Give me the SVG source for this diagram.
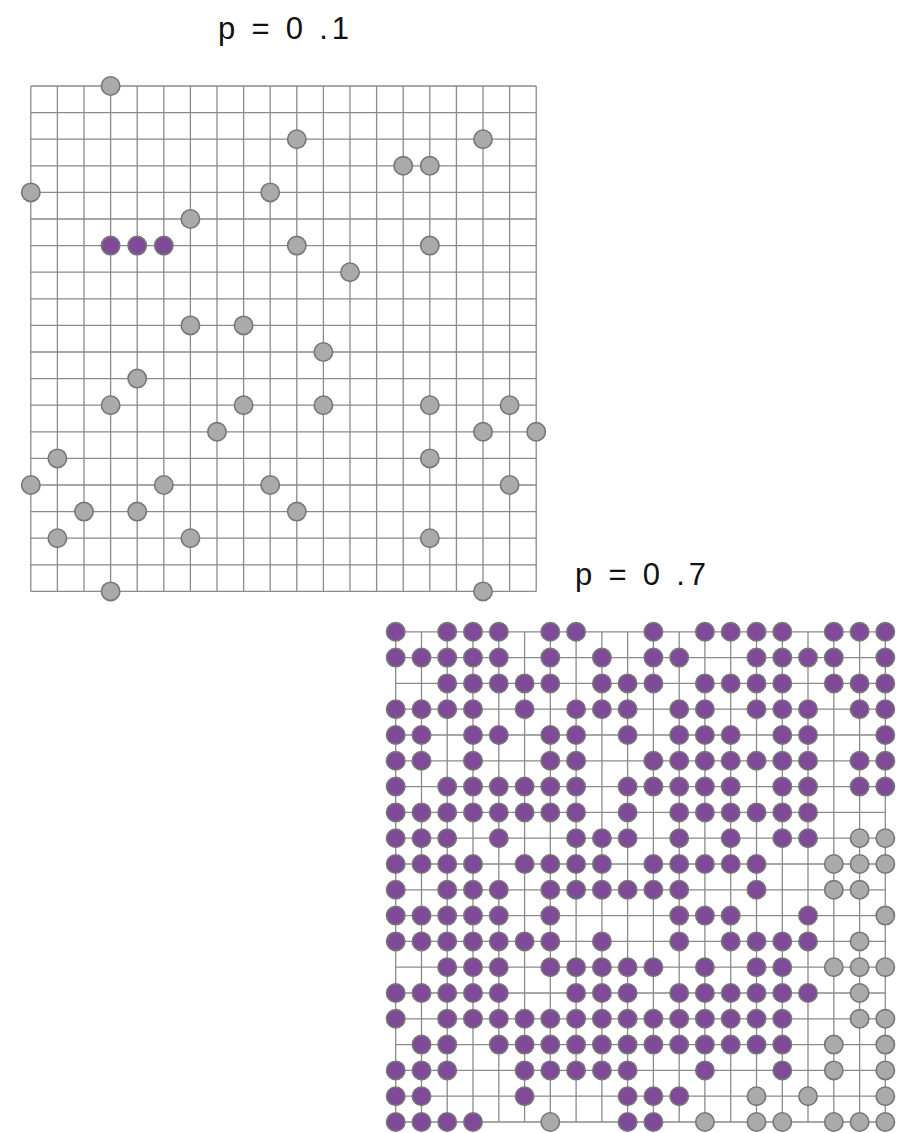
<svg xmlns="http://www.w3.org/2000/svg" xmlns:xlink="http://www.w3.org/1999/xlink" width="904" height="1133" viewBox="0 0 904 1133">
<style>
.title{font-family:"Liberation Sans","DejaVu Sans",sans-serif;font-size:31px;fill:#111}
.grid{fill:none;stroke:#8a8a8a;stroke-width:1.3}
</style>
<defs>
<circle id="P" r="9.2" fill="#7f4a98" stroke="#777" stroke-width="1.6"/>
<circle id="G" r="9.2" fill="#aaaaaa" stroke="#777" stroke-width="1.6"/>
</defs>
<rect width="904" height="1133" fill="#fff"/>
<text class="title" x="218" y="39" textLength="131" lengthAdjust="spacing">p = 0 .1</text>
<text class="title" x="575" y="585" textLength="131" lengthAdjust="spacing">p = 0 .7</text>

<g id="connectors">
<path id="grid-a" class="grid" d="M30.8 86V591.4M57.4 86V591.4M84 86V591.4M110.6 86V591.4M137.2 86V591.4M163.8 86V591.4M190.4 86V591.4M217 86V591.4M243.6 86V591.4M270.2 86V591.4M296.8 86V591.4M323.4 86V591.4M350 86V591.4M376.6 86V591.4M403.2 86V591.4M429.8 86V591.4M456.4 86V591.4M483 86V591.4M509.6 86V591.4M536.2 86V591.4M30.8 86H536.2M30.8 112.6H536.2M30.8 139.2H536.2M30.8 165.8H536.2M30.8 192.4H536.2M30.8 219H536.2M30.8 245.6H536.2M30.8 272.2H536.2M30.8 298.8H536.2M30.8 325.4H536.2M30.8 352H536.2M30.8 378.6H536.2M30.8 405.2H536.2M30.8 431.8H536.2M30.8 458.4H536.2M30.8 485H536.2M30.8 511.6H536.2M30.8 538.2H536.2M30.8 564.8H536.2M30.8 591.4H536.2"/>
<path id="grid-b" class="grid" d="M395.7 631.8V1122M421.5 631.8V1122M447.2 631.8V1122M473 631.8V1122M498.8 631.8V1122M524.6 631.8V1122M550.3 631.8V1122M576.1 631.8V1122M601.9 631.8V1122M627.6 631.8V1122M653.4 631.8V1122M679.2 631.8V1122M704.9 631.8V1122M730.7 631.8V1122M756.5 631.8V1122M782.3 631.8V1122M808 631.8V1122M833.8 631.8V1122M859.6 631.8V1122M885.3 631.8V1122M395.7 631.8H885.3M395.7 657.6H885.3M395.7 683.4H885.3M395.7 709.2H885.3M395.7 735H885.3M395.7 760.8H885.3M395.7 786.6H885.3M395.7 812.4H885.3M395.7 838.2H885.3M395.7 864H885.3M395.7 889.8H885.3M395.7 915.6H885.3M395.7 941.4H885.3M395.7 967.2H885.3M395.7 993H885.3M395.7 1018.8H885.3M395.7 1044.6H885.3M395.7 1070.4H885.3M395.7 1096.2H885.3M395.7 1122H885.3"/>
</g>

<g id="sites-a">
<use href="#G" x="110.6" y="86"/>
<use href="#G" x="296.8" y="139.2"/>
<use href="#G" x="483" y="139.2"/>
<use href="#G" x="403.2" y="165.8"/>
<use href="#G" x="429.8" y="165.8"/>
<use href="#G" x="30.8" y="192.4"/>
<use href="#G" x="270.2" y="192.4"/>
<use href="#G" x="190.4" y="219"/>
<use href="#P" x="110.6" y="245.6"/>
<use href="#P" x="137.2" y="245.6"/>
<use href="#P" x="163.8" y="245.6"/>
<use href="#G" x="296.8" y="245.6"/>
<use href="#G" x="429.8" y="245.6"/>
<use href="#G" x="350" y="272.2"/>
<use href="#G" x="190.4" y="325.4"/>
<use href="#G" x="243.6" y="325.4"/>
<use href="#G" x="323.4" y="352"/>
<use href="#G" x="137.2" y="378.6"/>
<use href="#G" x="110.6" y="405.2"/>
<use href="#G" x="243.6" y="405.2"/>
<use href="#G" x="323.4" y="405.2"/>
<use href="#G" x="429.8" y="405.2"/>
<use href="#G" x="509.6" y="405.2"/>
<use href="#G" x="217" y="431.8"/>
<use href="#G" x="483" y="431.8"/>
<use href="#G" x="536.2" y="431.8"/>
<use href="#G" x="57.4" y="458.4"/>
<use href="#G" x="429.8" y="458.4"/>
<use href="#G" x="30.8" y="485"/>
<use href="#G" x="163.8" y="485"/>
<use href="#G" x="270.2" y="485"/>
<use href="#G" x="509.6" y="485"/>
<use href="#G" x="84" y="511.6"/>
<use href="#G" x="137.2" y="511.6"/>
<use href="#G" x="296.8" y="511.6"/>
<use href="#G" x="57.4" y="538.2"/>
<use href="#G" x="190.4" y="538.2"/>
<use href="#G" x="429.8" y="538.2"/>
<use href="#G" x="110.6" y="591.4"/>
<use href="#G" x="483" y="591.4"/>
</g>

<g id="sites-b">
<g id="b-r00" transform="translate(0,631.8)">
<use href="#P" x="395.7"/><use href="#P" x="447.2"/><use href="#P" x="473"/><use href="#P" x="498.8"/><use href="#P" x="550.3"/><use href="#P" x="576.1"/>
<use href="#P" x="653.4"/><use href="#P" x="704.9"/><use href="#P" x="730.7"/><use href="#P" x="756.5"/><use href="#P" x="782.3"/><use href="#P" x="833.8"/><use href="#P" x="859.6"/><use href="#P" x="885.3"/>
</g>
<g id="b-r01" transform="translate(0,657.6)">
<use href="#P" x="395.7"/><use href="#P" x="421.5"/><use href="#P" x="447.2"/><use href="#P" x="473"/><use href="#P" x="498.8"/><use href="#P" x="550.3"/><use href="#P" x="601.9"/>
<use href="#P" x="653.4"/><use href="#P" x="679.2"/><use href="#P" x="756.5"/><use href="#P" x="782.3"/><use href="#P" x="808"/><use href="#P" x="833.8"/><use href="#P" x="885.3"/>
</g>
<g id="b-r02" transform="translate(0,683.4)">
<use href="#P" x="447.2"/><use href="#P" x="473"/><use href="#P" x="498.8"/><use href="#P" x="524.6"/><use href="#P" x="550.3"/><use href="#P" x="601.9"/><use href="#P" x="627.6"/>
<use href="#P" x="653.4"/><use href="#P" x="704.9"/><use href="#P" x="730.7"/><use href="#P" x="756.5"/><use href="#P" x="782.3"/><use href="#P" x="833.8"/><use href="#P" x="859.6"/><use href="#P" x="885.3"/>
</g>
<g id="b-r03" transform="translate(0,709.2)">
<use href="#P" x="395.7"/><use href="#P" x="421.5"/><use href="#P" x="447.2"/><use href="#P" x="473"/><use href="#P" x="524.6"/><use href="#P" x="576.1"/><use href="#P" x="601.9"/><use href="#P" x="627.6"/>
<use href="#P" x="679.2"/><use href="#P" x="704.9"/><use href="#P" x="756.5"/><use href="#P" x="782.3"/><use href="#P" x="808"/><use href="#P" x="859.6"/><use href="#P" x="885.3"/>
</g>
<g id="b-r04" transform="translate(0,735)">
<use href="#P" x="395.7"/><use href="#P" x="421.5"/><use href="#P" x="473"/><use href="#P" x="498.8"/><use href="#P" x="550.3"/><use href="#P" x="576.1"/><use href="#P" x="627.6"/>
<use href="#P" x="679.2"/><use href="#P" x="704.9"/><use href="#P" x="730.7"/><use href="#P" x="782.3"/><use href="#P" x="808"/><use href="#P" x="885.3"/>
</g>
<g id="b-r05" transform="translate(0,760.8)">
<use href="#P" x="395.7"/><use href="#P" x="421.5"/><use href="#P" x="473"/><use href="#P" x="550.3"/><use href="#P" x="576.1"/>
<use href="#P" x="653.4"/><use href="#P" x="679.2"/><use href="#P" x="704.9"/><use href="#P" x="730.7"/><use href="#P" x="756.5"/><use href="#P" x="782.3"/><use href="#P" x="808"/><use href="#P" x="859.6"/><use href="#P" x="885.3"/>
</g>
<g id="b-r06" transform="translate(0,786.6)">
<use href="#P" x="395.7"/><use href="#P" x="447.2"/><use href="#P" x="473"/><use href="#P" x="498.8"/><use href="#P" x="524.6"/><use href="#P" x="550.3"/><use href="#P" x="576.1"/><use href="#P" x="627.6"/>
<use href="#P" x="653.4"/><use href="#P" x="679.2"/><use href="#P" x="704.9"/><use href="#P" x="730.7"/><use href="#P" x="782.3"/><use href="#P" x="808"/><use href="#P" x="859.6"/><use href="#P" x="885.3"/>
</g>
<g id="b-r07" transform="translate(0,812.4)">
<use href="#P" x="395.7"/><use href="#P" x="421.5"/><use href="#P" x="447.2"/><use href="#P" x="473"/><use href="#P" x="498.8"/><use href="#P" x="524.6"/><use href="#P" x="550.3"/><use href="#P" x="576.1"/><use href="#P" x="627.6"/>
<use href="#P" x="679.2"/><use href="#P" x="704.9"/><use href="#P" x="730.7"/><use href="#P" x="756.5"/><use href="#P" x="782.3"/><use href="#P" x="808"/>
</g>
<g id="b-r08" transform="translate(0,838.2)">
<use href="#P" x="395.7"/><use href="#P" x="421.5"/><use href="#P" x="447.2"/><use href="#P" x="498.8"/><use href="#P" x="576.1"/><use href="#P" x="601.9"/><use href="#P" x="627.6"/>
<use href="#P" x="679.2"/><use href="#P" x="730.7"/><use href="#P" x="782.3"/><use href="#P" x="808"/><use href="#G" x="859.6"/><use href="#G" x="885.3"/>
</g>
<g id="b-r09" transform="translate(0,864)">
<use href="#P" x="395.7"/><use href="#P" x="421.5"/><use href="#P" x="447.2"/><use href="#P" x="473"/><use href="#P" x="524.6"/><use href="#P" x="550.3"/><use href="#P" x="576.1"/><use href="#P" x="601.9"/>
<use href="#P" x="653.4"/><use href="#P" x="679.2"/><use href="#P" x="704.9"/><use href="#P" x="730.7"/><use href="#P" x="756.5"/><use href="#G" x="833.8"/><use href="#G" x="859.6"/><use href="#G" x="885.3"/>
</g>
<g id="b-r10" transform="translate(0,889.8)">
<use href="#P" x="395.7"/><use href="#P" x="447.2"/><use href="#P" x="473"/><use href="#P" x="498.8"/><use href="#P" x="550.3"/><use href="#P" x="576.1"/><use href="#P" x="601.9"/><use href="#P" x="627.6"/>
<use href="#P" x="653.4"/><use href="#P" x="679.2"/><use href="#P" x="756.5"/><use href="#G" x="833.8"/><use href="#G" x="859.6"/>
</g>
<g id="b-r11" transform="translate(0,915.6)">
<use href="#P" x="395.7"/><use href="#P" x="421.5"/><use href="#P" x="447.2"/><use href="#P" x="473"/><use href="#P" x="498.8"/><use href="#P" x="550.3"/>
<use href="#P" x="679.2"/><use href="#P" x="704.9"/><use href="#P" x="730.7"/><use href="#P" x="808"/><use href="#G" x="885.3"/>
</g>
<g id="b-r12" transform="translate(0,941.4)">
<use href="#P" x="395.7"/><use href="#P" x="421.5"/><use href="#P" x="447.2"/><use href="#P" x="473"/><use href="#P" x="498.8"/><use href="#P" x="524.6"/><use href="#P" x="550.3"/><use href="#P" x="601.9"/>
<use href="#P" x="679.2"/><use href="#P" x="730.7"/><use href="#P" x="756.5"/><use href="#P" x="782.3"/><use href="#P" x="808"/><use href="#G" x="859.6"/>
</g>
<g id="b-r13" transform="translate(0,967.2)">
<use href="#P" x="447.2"/><use href="#P" x="473"/><use href="#P" x="498.8"/><use href="#P" x="550.3"/><use href="#P" x="576.1"/><use href="#P" x="601.9"/><use href="#P" x="627.6"/>
<use href="#P" x="653.4"/><use href="#P" x="704.9"/><use href="#P" x="756.5"/><use href="#P" x="782.3"/><use href="#G" x="833.8"/><use href="#G" x="859.6"/><use href="#G" x="885.3"/>
</g>
<g id="b-r14" transform="translate(0,993)">
<use href="#P" x="395.7"/><use href="#P" x="421.5"/><use href="#P" x="447.2"/><use href="#P" x="473"/><use href="#P" x="498.8"/><use href="#P" x="576.1"/><use href="#P" x="601.9"/><use href="#P" x="627.6"/>
<use href="#P" x="679.2"/><use href="#P" x="704.9"/><use href="#P" x="730.7"/><use href="#P" x="756.5"/><use href="#P" x="782.3"/><use href="#P" x="808"/><use href="#G" x="859.6"/>
</g>
<g id="b-r15" transform="translate(0,1018.8)">
<use href="#P" x="395.7"/><use href="#P" x="447.2"/><use href="#P" x="473"/><use href="#P" x="498.8"/><use href="#P" x="524.6"/><use href="#P" x="550.3"/><use href="#P" x="576.1"/><use href="#P" x="601.9"/><use href="#P" x="627.6"/>
<use href="#P" x="653.4"/><use href="#P" x="679.2"/><use href="#P" x="704.9"/><use href="#P" x="730.7"/><use href="#P" x="756.5"/><use href="#P" x="782.3"/><use href="#G" x="859.6"/><use href="#G" x="885.3"/>
</g>
<g id="b-r16" transform="translate(0,1044.6)">
<use href="#P" x="421.5"/><use href="#P" x="447.2"/><use href="#P" x="498.8"/><use href="#P" x="524.6"/><use href="#P" x="550.3"/><use href="#P" x="576.1"/><use href="#P" x="601.9"/><use href="#P" x="627.6"/>
<use href="#P" x="653.4"/><use href="#P" x="679.2"/><use href="#P" x="704.9"/><use href="#P" x="730.7"/><use href="#P" x="756.5"/><use href="#P" x="782.3"/><use href="#G" x="833.8"/><use href="#G" x="885.3"/>
</g>
<g id="b-r17" transform="translate(0,1070.4)">
<use href="#P" x="395.7"/><use href="#P" x="421.5"/><use href="#P" x="447.2"/><use href="#P" x="524.6"/><use href="#P" x="550.3"/><use href="#P" x="576.1"/><use href="#P" x="601.9"/><use href="#P" x="627.6"/>
<use href="#P" x="704.9"/><use href="#P" x="782.3"/><use href="#G" x="833.8"/><use href="#G" x="885.3"/>
</g>
<g id="b-r18" transform="translate(0,1096.2)">
<use href="#P" x="395.7"/><use href="#P" x="421.5"/><use href="#P" x="524.6"/><use href="#P" x="627.6"/>
<use href="#P" x="653.4"/><use href="#P" x="679.2"/><use href="#G" x="756.5"/><use href="#G" x="808"/><use href="#G" x="885.3"/>
</g>
<g id="b-r19" transform="translate(0,1122)">
<use href="#P" x="395.7"/><use href="#P" x="421.5"/><use href="#P" x="447.2"/><use href="#P" x="473"/><use href="#G" x="550.3"/><use href="#P" x="627.6"/>
<use href="#P" x="653.4"/><use href="#G" x="704.9"/><use href="#G" x="756.5"/><use href="#G" x="782.3"/><use href="#G" x="833.8"/><use href="#G" x="859.6"/><use href="#G" x="885.3"/>
</g>
</g>
</svg>
